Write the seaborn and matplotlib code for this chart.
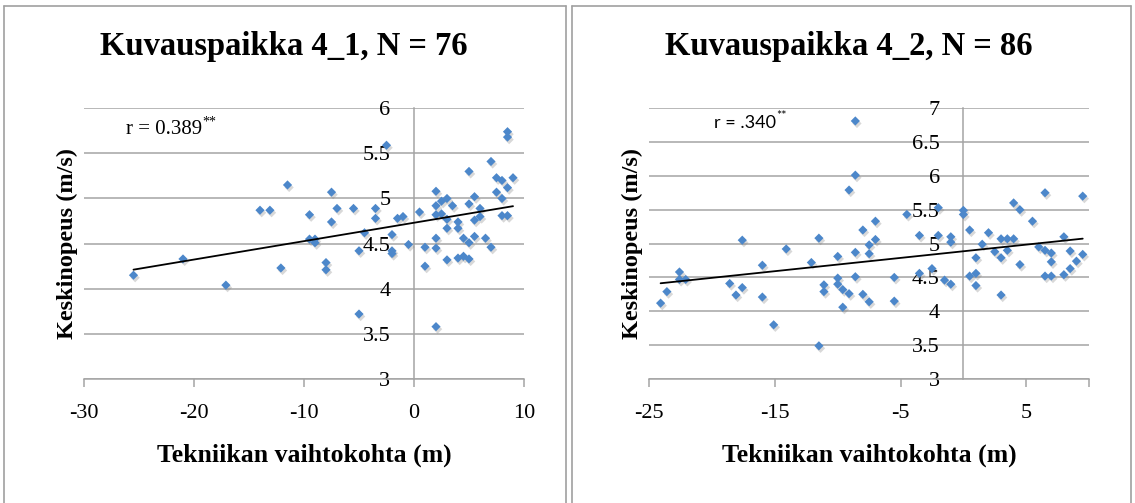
import matplotlib
matplotlib.use("Agg")
import matplotlib.pyplot as plt
import matplotlib.patheffects as pe
from matplotlib.lines import Line2D
import pandas as pd
import seaborn as sns

# ---- data -------------------------------------------------------------
titles = ["Kuvauspaikka 4_1, N = 76", "Kuvauspaikka 4_2, N = 86"]
r_texts = ["r = 0.389", "r = .340"]
r_stars = "**"
x_label = "Tekniikan vaihtokohta (m)"
y_label = "Keskinopeus (m/s)"

# site 4_1: switch point (m) vs. mean speed (m/s)
x1 = [-25.5, -21.0, -17.1, -14.0, -13.1, -11.5, -12.1, -9.5, -9.5, -9.0,
      -9.0, -8.0, -8.0, -7.5, -7.5, -7.0, -5.5, -5.0, -5.0, -4.5,
      -3.5, -3.5, -2.5, -2.0, -2.0, -2.0, -1.5, -1.0, -0.5, 0.5,
      1.0, 1.0, 2.0, 2.0, 2.0, 2.0, 2.0, 2.0, 2.5, 2.5,
      3.0, 3.0, 3.0, 3.0, 3.5, 4.0, 4.0, 4.0, 4.5, 4.5,
      5.0, 5.0, 5.0, 5.0, 5.5, 5.5, 5.5, 6.0, 6.0, 6.5,
      7.0, 7.0, 7.5, 7.5, 8.0, 8.0, 8.0, 8.5, 8.5, 8.5,
      8.5, 9.0]
y1 = [4.15, 4.33, 4.04, 4.87, 4.87, 5.15, 4.23, 4.82, 4.55, 4.55,
      4.51, 4.29, 4.21, 5.07, 4.74, 4.89, 4.89, 4.42, 3.72, 4.62,
      4.89, 4.78, 5.59, 4.60, 4.42, 4.39, 4.78, 4.80, 4.49, 4.85,
      4.46, 4.25, 5.08, 4.92, 4.82, 4.56, 4.45, 3.58, 4.97, 4.83,
      5.00, 4.77, 4.67, 4.32, 4.92, 4.74, 4.67, 4.34, 4.36, 4.56,
      5.30, 4.94, 4.51, 4.33, 5.02, 4.76, 4.58, 4.89, 4.80, 4.56,
      5.41, 4.46, 5.23, 5.07, 5.20, 5.00, 4.81, 5.74, 5.68, 5.12,
      4.81, 5.23]

# site 4_2
x2 = [-24.1, -23.6, -22.6, -22.6, -22.1, -18.6, -18.1, -17.6, -17.6, -16.0,
      -16.0, -15.1, -14.1, -12.1, -11.5, -11.5, -11.1, -11.1, -10.0, -10.0,
      -10.0, -9.6, -9.6, -9.1, -9.1, -8.6, -8.6, -8.6, -8.6, -8.0,
      -8.0, -7.5, -7.5, -7.5, -7.0, -7.0, -5.5, -5.5, -4.5, -3.5,
      -3.5, -2.5, -2.0, -2.0, -1.5, -1.0, -1.0, -1.0, 0.0, 0.0,
      0.5, 0.5, 1.0, 1.0, 1.0, 1.5, 2.0, 2.5, 3.0, 3.0,
      3.0, 3.5, 3.5, 4.0, 4.0, 4.5, 4.5, 5.5, 6.0, 6.5,
      6.5, 6.5, 7.0, 7.0, 7.0, 8.0, 8.0, 8.5, 8.5, 9.0,
      9.5, 9.5]
y2 = [4.12, 4.29, 4.58, 4.47, 4.47, 4.41, 4.24, 5.05, 4.35, 4.68,
      4.21, 3.80, 4.92, 4.72, 5.08, 3.49, 4.39, 4.29, 4.81, 4.49,
      4.40, 4.32, 4.06, 5.79, 4.26, 6.81, 6.01, 4.87, 4.51, 5.20,
      4.25, 4.98, 4.85, 4.14, 5.33, 5.06, 4.50, 4.15, 5.43, 5.12,
      4.56, 4.63, 5.53, 5.12, 4.46, 5.10, 5.02, 4.40, 5.49, 5.43,
      5.20, 4.52, 4.79, 4.56, 4.38, 4.99, 5.16, 4.88, 5.07, 4.79,
      4.24, 5.07, 4.90, 5.60, 5.07, 5.50, 4.69, 5.33, 4.95, 5.75,
      4.90, 4.52, 4.86, 4.73, 4.52, 5.10, 4.54, 4.89, 4.63, 4.74,
      5.70, 4.84]

x1_ticks = [-30, -20, -10, 0, 10]
x2_ticks = [-25, -15, -5, 5, 10]
x2_ticklabels = ["-25", "-15", "-5", "5", ""]
y1_ticks = [3, 3.5, 4, 4.5, 5, 5.5, 6]
y2_ticks = [3, 3.5, 4, 4.5, 5, 5.5, 6, 6.5, 7]

# ---- style ------------------------------------------------------------
sns.set_theme(style="white")
plt.rcParams["font.family"] = ["Liberation Serif", "DejaVu Serif"]
plt.rcParams["text.color"] = "black"

W, H = 1135, 503
GRID = "#a4a4a4"
BLUE = "#4c87ca"
fig = plt.figure(figsize=(W / 100, H / 100), dpi=100)


def box(x0, x1, ytop, ybot):
    return [x0 / W, 1 - ybot / H, (x1 - x0) / W, (ybot - ytop) / H]


ax1 = fig.add_axes(box(84, 524, 107.7, 379))
ax2 = fig.add_axes(box(649.3, 1089, 107.7, 379))


def fmt(v):
    return f"{v:g}"


def draw_panel(ax, xs, ys, xlim, xticks, xticklabels, ylim, yticks):
    df = pd.DataFrame({"x": xs, "y": ys})
    sns.scatterplot(data=df, x="x", y="y", marker="D", s=22, color=BLUE,
                    edgecolor="none", linewidth=0, ax=ax, zorder=3)
    ax.collections[-1].set_path_effects([
        pe.SimplePatchShadow(offset=(1.2, -1.8), shadow_rgbFace="0.5", alpha=0.3),
        pe.Normal()])
    sns.regplot(data=df, x="x", y="y", scatter=False, ci=None, truncate=True,
                color="black", line_kws=dict(lw=1.3, zorder=4), ax=ax)

    ax.set_xlim(*xlim)
    ax.set_ylim(ylim[0], ylim[1] + 0.006)
    ax.set_xticks(xticks)
    ax.set_xticklabels(xticklabels)
    ax.set_yticks(yticks)
    ax.set_yticklabels([fmt(v) for v in yticks])
    ax.set_xlabel("")
    ax.set_ylabel("")

    for s in ("top", "right"):
        ax.spines[s].set_visible(False)
    ax.spines["left"].set_position(("data", 0))
    for s in ("left", "bottom"):
        ax.spines[s].set_color(GRID)
        ax.spines[s].set_linewidth(1.1)
    ax.grid(axis="y", color=GRID, lw=1.1)
    ax.grid(axis="x", visible=False)
    ax.set_axisbelow(True)
    ax.tick_params(axis="x", bottom=True, direction="out", length=6, width=1.1,
                   color=GRID, pad=12, labelsize=16, labelcolor="black")
    ax.tick_params(axis="y", left=True, length=0, pad=17, labelsize=16,
                   labelcolor="black")


draw_panel(ax1, x1, y1, (-30, 10), x1_ticks, [fmt(v) for v in x1_ticks], (3, 6), y1_ticks)
draw_panel(ax2, x2, y2, (-25, 10), x2_ticks, x2_ticklabels, (3, 7), y2_ticks)

# correlation notes with superscript significance stars
t1 = fig.text(126 / W, 1 - 130 / H, r_texts[0], fontsize=15, ha="left", va="center")
ax1.annotate(r_stars, xy=(1.0, 0.93), xycoords=t1, ha="left", va="center", fontsize=10)
t2 = fig.text(714 / W, 1 - 123 / H, r_texts[1], fontsize=13, ha="left", va="center",
              family=["Lato", "DejaVu Sans"])
ax2.annotate(r_stars, xy=(1.0, 0.93), xycoords=t2, ha="left", va="center", fontsize=9,
             family=["Lato", "DejaVu Sans"])

# titles and axis labels
for cx, ttl in zip((284, 849), titles):
    fig.text(cx / W, 1 - 47 / H, ttl, fontsize=23.5, fontweight="bold",
             ha="center", va="center")
for cx in (304, 869):
    fig.text(cx / W, 1 - 455 / H, x_label, fontsize=18.5, fontweight="bold",
             ha="center", va="center")
for cx in (67, 632):
    fig.text(cx / W, 1 - 243 / H, y_label, fontsize=17.5, fontweight="bold",
             ha="center", va="center", rotation=90)

# cell borders around each chart
BORDER = "#a0a0a0"
segments = [
    ((4, 4), (6, 503)), ((4, 566), (6, 6)), ((566, 566), (6, 503)),
    ((572, 572), (6, 503)), ((572, 1131), (6, 6)), ((1131, 1131), (6, 503)),
]
for xs_, ys_ in segments:
    fig.add_artist(Line2D([v / W for v in xs_], [1 - v / H for v in ys_],
                          color=BORDER, lw=1.2, transform=fig.transFigure))

fig.savefig("out.png", dpi=100)
